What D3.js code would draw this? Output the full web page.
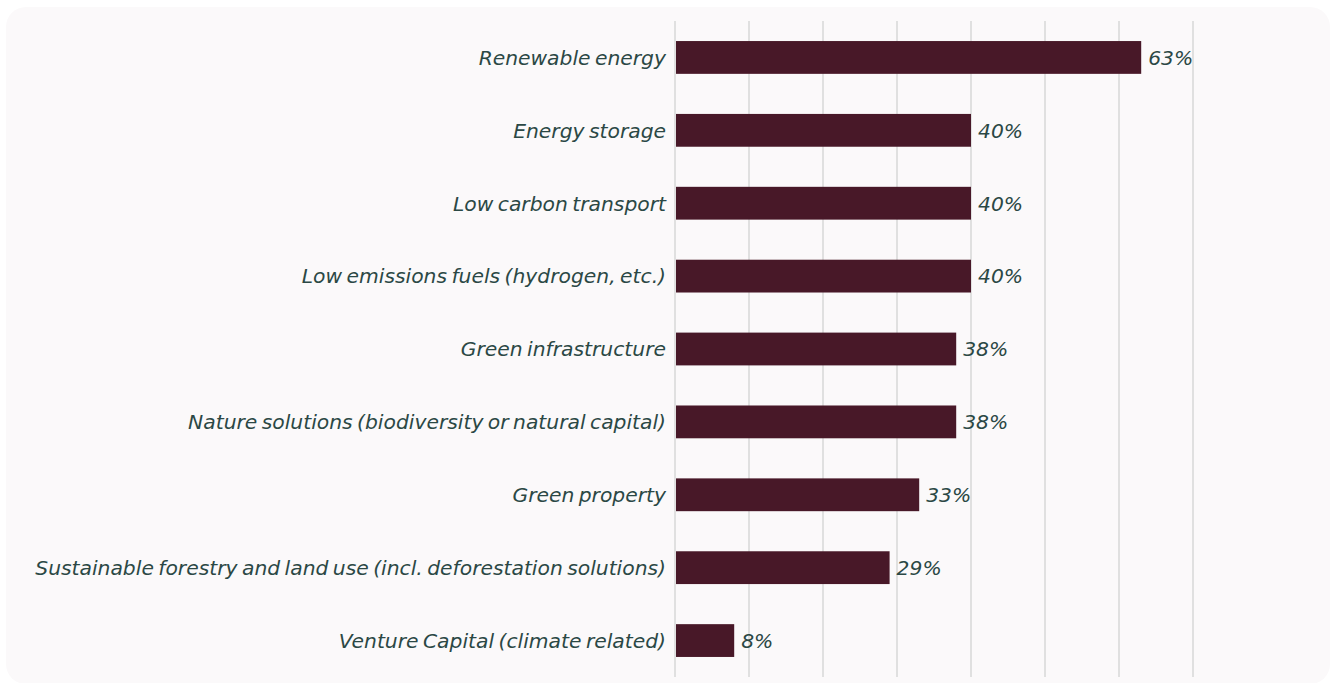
<!DOCTYPE html>
<html>
<head>
<meta charset="utf-8">
<script src="https://cdn.jsdelivr.net/npm/d3@7"></script>
<style>
  html, body { margin: 0; padding: 0; background: #ffffff; }
  svg { display: block; }
  .lbl { font-family: "DejaVu Sans", sans-serif; font-style: italic; fill: #2b4845; }
</style>
</head>
<body>
<svg id="chart" width="1336" height="683"></svg>
<script>
// Share of respondents investing in each climate solution
const categories = [
  "Renewable energy",
  "Energy storage",
  "Low carbon transport",
  "Low emissions fuels (hydrogen, etc.)",
  "Green infrastructure",
  "Nature solutions (biodiversity or natural capital)",
  "Green property",
  "Sustainable forestry and land use (incl. deforestation solutions)",
  "Venture Capital (climate related)"
];
const values = [63, 40, 40, 40, 38, 38, 33, 29, 8];
const gridTicks = [0, 10, 20, 30, 40, 50, 60, 70];

const svg = d3.select("#chart");
const W = 1336, H = 683;

// card background
svg.append("rect")
  .attr("x", 6).attr("y", 7)
  .attr("width", W - 12).attr("height", H - 6)
  .attr("rx", 20).attr("ry", 20)
  .attr("fill", "#fbf9fa");

const x = d3.scaleLinear().domain([0, 70]).range([675, 1193]);
const y = d3.scaleBand().domain(categories).range([21, 677])
  .paddingInner(0.55).paddingOuter(0.275);

// vertical gridlines
svg.append("g").selectAll("line").data(gridTicks).join("line")
  .attr("x1", d => x(d)).attr("x2", d => x(d))
  .attr("y1", 21).attr("y2", 677)
  .attr("stroke", "#e0e0e0").attr("stroke-width", 2);

// bars
svg.append("g").selectAll("rect").data(values).join("rect")
  .attr("x", x(0) + 1)
  .attr("y", (d, i) => y(categories[i]))
  .attr("width", d => x(d) - x(0) - 1)
  .attr("height", y.bandwidth())
  .attr("fill", "#481828");

// category labels
svg.append("g").selectAll("text").data(categories).join("text")
  .attr("class", "lbl")
  .attr("x", x(0) - 9)
  .attr("y", d => y(d) + y.bandwidth() / 2)
  .attr("dy", "0.36em")
  .attr("text-anchor", "end")
  .attr("font-size", 20.3)
  .attr("word-spacing", "-2px")
  .text(d => d);

// value labels
svg.append("g").selectAll("text").data(values).join("text")
  .attr("class", "lbl")
  .attr("x", d => x(d) + 7)
  .attr("y", (d, i) => y(categories[i]) + y.bandwidth() / 2)
  .attr("dy", "0.36em")
  .attr("font-size", 20.3)
  .text(d => d + "%");
</script>
</body>
</html>
